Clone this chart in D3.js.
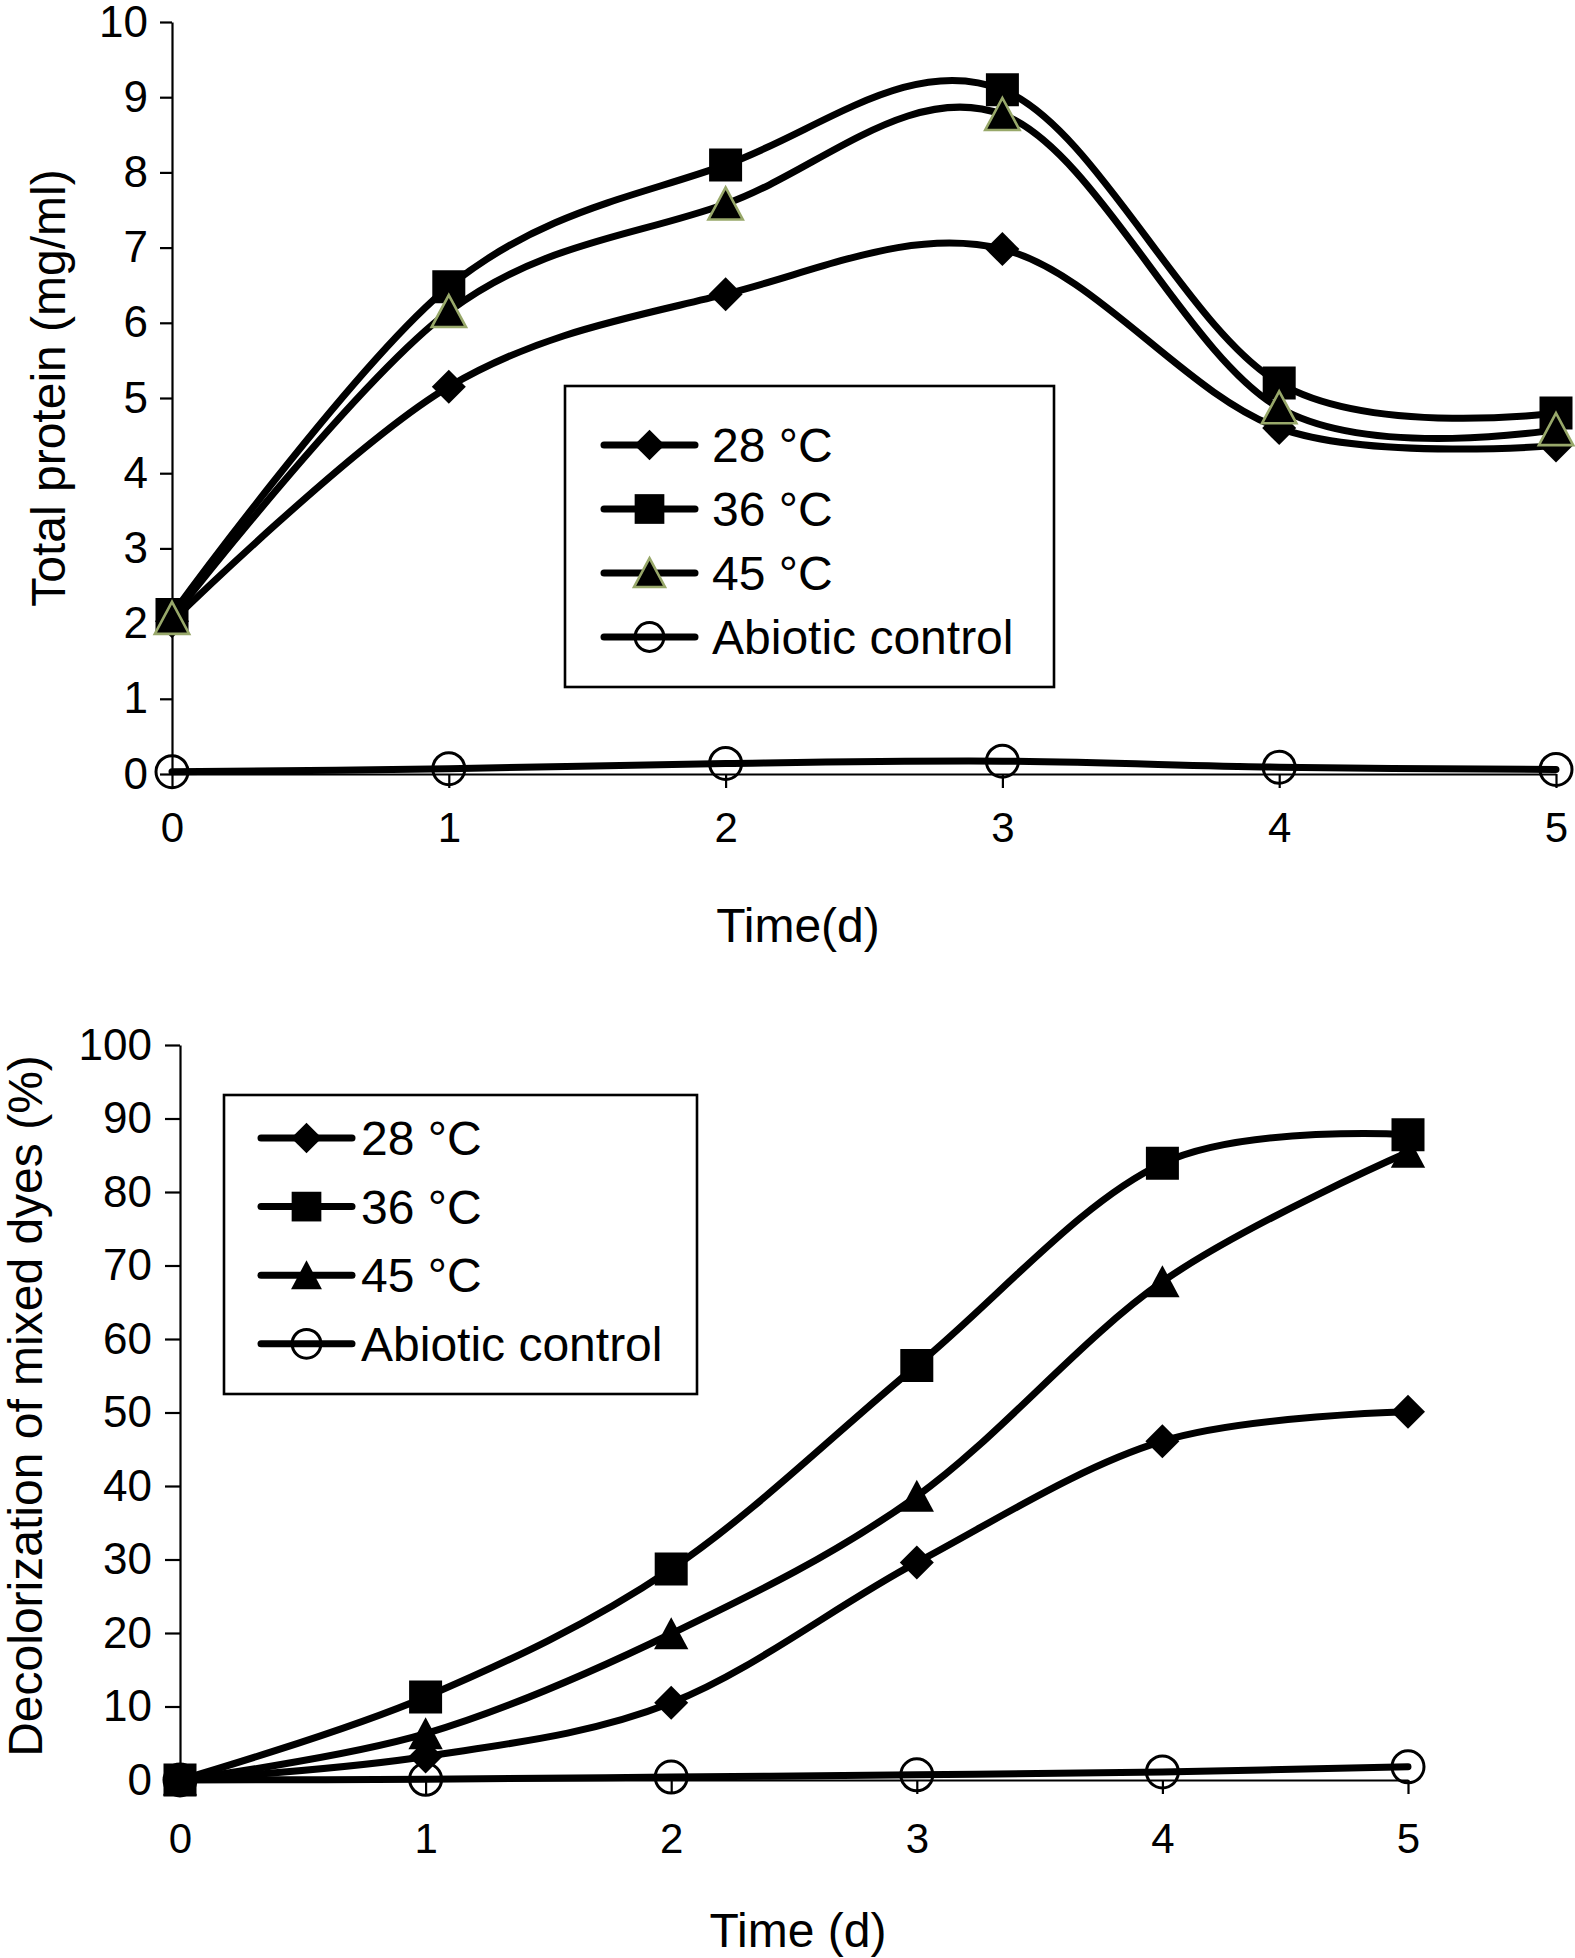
<!DOCTYPE html>
<html>
<head>
<meta charset="utf-8">
<script src="https://cdn.jsdelivr.net/npm/d3@7"></script>
<style>
  body { margin: 0; background: #fff; }
  svg text { font-family: "Liberation Sans", Arial, Helvetica, sans-serif; fill: #000; }
</style>
</head>
<body>
<svg id="fig" width="1575" height="1958"></svg>
<script>

/* DATA */

const days = [0, 1, 2, 3, 4, 5];
const seriesNames = ["28 \u00B0C", "36 \u00B0C", "45 \u00B0C", "Abiotic control"];
const markerTypes = ["diamond", "square", "triangle", "circle"];

// top panel: total protein (mg/ml)
const protein28 = [2.03, 5.15, 6.38, 6.98, 4.60, 4.37];
const protein36 = [2.12, 6.48, 8.10, 9.10, 5.20, 4.80];
const protein45 = [2.07, 6.15, 7.58, 8.77, 4.87, 4.58];
const proteinAbiotic = [0.03, 0.07, 0.14, 0.17, 0.09, 0.06];
const proteinTicks = [0, 1, 2, 3, 4, 5, 6, 7, 8, 9, 10];

// bottom panel: decolorization of mixed dyes (%)
const decol28 = [0, 3.2, 10.5, 29.6, 46.1, 50.1];
const decol36 = [0, 11.3, 28.7, 56.4, 83.9, 87.8];
const decol45 = [0, 6.3, 19.9, 38.6, 67.8, 85.4];
const decolAbiotic = [0, 0.1, 0.4, 0.7, 1.1, 1.8];
const decolTicks = [0, 10, 20, 30, 40, 50, 60, 70, 80, 90, 100];

const svg = d3.select("svg#fig");


/* MARKERS */

// custom triangle, a bit taller than d3's equilateral one
const triangleSymbol = {
  draw: function(context, size) {
    const w = Math.sqrt(size);
    context.moveTo(0, -w * 0.5);
    context.lineTo(w * 0.52, w * 0.47);
    context.lineTo(-w * 0.52, w * 0.47);
    context.closePath();
  }
};

// square turned 45 degrees
const diamondSymbol = {
  draw: function(context, size) {
    const r = Math.sqrt(size) * 0.5;
    context.moveTo(0, -r);
    context.lineTo(r, 0);
    context.lineTo(0, r);
    context.lineTo(-r, 0);
    context.closePath();
  }
};

function drawMarker(g, type, cx, cy, scale, triStroke) {
  if (type === "circle") {
    g.append("circle")
      .attr("cx", cx).attr("cy", cy)
      .attr("r", 16 * scale)
      .attr("fill", "none")
      .attr("stroke", "#000")
      .attr("stroke-width", 3);
    return;
  }
  let sym, size;
  if (type === "square") { sym = d3.symbolSquare; size = 33 * 33; }
  if (type === "diamond") { sym = diamondSymbol; size = 34 * 34; }
  if (type === "triangle") { sym = triangleSymbol; size = 33 * 33; }

  const p = g.append("path")
    .attr("d", d3.symbol().type(sym).size(size * scale * scale)())
    .attr("transform", "translate(" + cx + "," + cy + ")")
    .attr("fill", "#000");

  if (type === "triangle" && triStroke) {
    p.attr("stroke", triStroke).attr("stroke-width", 2.6).attr("stroke-linejoin", "miter");
  }
}


/* PANEL */

function drawPanel(cfg) {
  const panel = svg.append("g").attr("id", cfg.id);

  const xScale = d3.scaleLinear().domain([0, 5]).range(cfg.xRange);
  const yScale = d3.scaleLinear().domain([0, cfg.yTicks[cfg.yTicks.length - 1]]).range(cfg.yRange);

  // axes
  const yAxis = d3.axisLeft(yScale)
    .tickValues(cfg.yTicks)
    .tickFormat(d3.format("d"))
    .tickSize(cfg.yTickSize)
    .tickPadding(cfg.yTickPad)
    .tickSizeOuter(0);

  const xAxis = d3.axisBottom(xScale)
    .tickValues(days)
    .tickFormat(d3.format("d"))
    .tickSize(14)
    .tickSizeOuter(0);

  const xGroup = panel.append("g")
    .attr("transform", "translate(0," + cfg.yRange[0] + ")")
    .call(xAxis);
  xGroup.selectAll("text")
    .attr("y", cfg.xLabelY)
    .attr("dy", 0)
    .style("font-size", "42px");

  const yGroup = panel.append("g")
    .attr("transform", "translate(" + cfg.xRange[0] + ",0)")
    .call(yAxis);
  yGroup.selectAll("text").style("font-size", "44px");

  panel.selectAll(".domain").attr("stroke", "#000").attr("stroke-width", 2.2);
  panel.selectAll(".tick line").attr("stroke", "#000").attr("stroke-width", 2.2);
  panel.selectAll(".tick text").attr("fill", "#000").attr("font-family", null);

  // axis titles
  panel.append("text")
    .attr("x", cfg.xTitleX)
    .attr("y", cfg.xTitleY)
    .attr("text-anchor", "middle")
    .style("font-size", "48px")
    .text(cfg.xTitle);

  panel.append("g")
    .attr("transform", "translate(" + cfg.yTitleX + "," + cfg.yTitleY + ")")
    .append("text")
    .attr("transform", "rotate(-90)")
    .attr("text-anchor", "middle")
    .style("font-size", "48px")
    .text(cfg.yTitle);

  // smoothed lines, same look as the spreadsheet "smoothed line" option
  const line = d3.line()
    .x(function(d, i) { return xScale(days[i]); })
    .y(function(d) { return yScale(d); })
    .curve(d3.curveCatmullRom.alpha(0));

  const plot = panel.append("g").attr("id", cfg.id + "-plot");

  cfg.order.forEach(function(k) {
    plot.append("path")
      .datum(cfg.series[k])
      .attr("d", line)
      .attr("fill", "none")
      .attr("stroke", "#000")
      .attr("stroke-width", 7)
      .attr("stroke-linejoin", "round")
      .attr("stroke-linecap", "round");
  });

  cfg.order.forEach(function(k) {
    const g = plot.append("g");
    cfg.series[k].forEach(function(v, i) {
      drawMarker(g, markerTypes[k], xScale(days[i]), yScale(v), 1, cfg.triStroke);
    });
  });

  // legend
  const lg = cfg.legend;
  const legend = panel.append("g").attr("class", "legend");
  legend.append("rect")
    .attr("x", lg.x).attr("y", lg.y)
    .attr("width", lg.w).attr("height", lg.h)
    .attr("fill", "#fff")
    .attr("stroke", "#000")
    .attr("stroke-width", 2.6);

  seriesNames.forEach(function(name, k) {
    const ry = lg.rowY + k * lg.rowStep;
    legend.append("line")
      .attr("x1", lg.lineX1).attr("x2", lg.lineX2)
      .attr("y1", ry).attr("y2", ry)
      .attr("stroke", "#000")
      .attr("stroke-width", 7)
      .attr("stroke-linecap", "round");
    drawMarker(legend, markerTypes[k], (lg.lineX1 + lg.lineX2) / 2, ry, 0.9, cfg.triStroke);
    legend.append("text")
      .attr("x", lg.textX)
      .attr("y", ry)
      .attr("dy", "0.36em")
      .style("font-size", "48px")
      .text(name);
  });
}


/* DRAW BOTH PANELS */

drawPanel({
  id: "protein",
  series: [protein28, protein36, protein45, proteinAbiotic],
  order: [0, 1, 2, 3],
  xRange: [172, 1556],
  yRange: [774, 22],
  yTicks: proteinTicks,
  yTickSize: 12,
  yTickPad: 12,
  xLabelY: 68,
  xTitle: "Time(d)",
  xTitleX: 798,
  xTitleY: 942,
  yTitle: "Total protein (mg/ml)",
  yTitleX: 65,
  yTitleY: 388,
  triStroke: "#98a86a",
  legend: { x: 565, y: 386, w: 489, h: 301, lineX1: 604, lineX2: 695, textX: 712, rowY: 445, rowStep: 64 }
});

drawPanel({
  id: "decolor",
  series: [decol28, decol36, decol45, decolAbiotic],
  order: [0, 2, 1, 3],
  xRange: [180, 1408],
  yRange: [1780, 1045],
  yTicks: decolTicks,
  yTickSize: 15,
  yTickPad: 13,
  xLabelY: 73,
  xTitle: "Time (d)",
  xTitleX: 798,
  xTitleY: 1947,
  yTitle: "Decolorization of mixed dyes (%)",
  yTitleX: 42,
  yTitleY: 1406,
  triStroke: null,
  legend: { x: 224, y: 1095, w: 473, h: 299, lineX1: 261, lineX2: 352, textX: 361, rowY: 1138, rowStep: 68.6 }
});

</script>
</body>
</html>
